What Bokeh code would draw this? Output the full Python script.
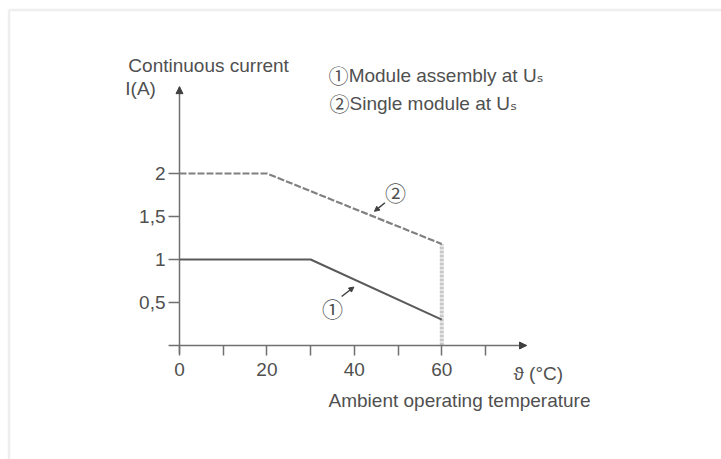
from bokeh.plotting import figure
from bokeh.models import Range1d, FixedTicker, Label, Arrow, NormalHead
from bokeh.embed import file_html
from bokeh.resources import INLINE

# ---- data ----
temp_assembly = [0, 30, 60]
current_assembly = [1.0, 1.0, 0.3]
temp_single = [0, 20, 60]
current_single = [2.0, 2.0, 1.18]
limit_temp = [60, 60]
limit_current = [0.0, 1.18]
x_ticks = [0, 10, 20, 30, 40, 50, 60, 70]
x_tick_labels = ["0", "", "20", "", "40", "", "60", ""]
y_ticks = [0.5, 1.0, 1.5, 2.0]
y_tick_labels = ["0,5", "1", "1,5", "2"]

# drawn axis extents (data units)
AX_X0, AX_X1 = -2.5, 79.4
AX_Y0, AX_Y1 = -0.093, 3.01
# whole-canvas data window (canvas 721 x 459 px)
X_START, X_END = -40.95, 124.0
Y_START, Y_END = -1.3256, 4.012
# faint page frame (top / left edges)
FRAME_X, FRAME_Y = -39.0, 3.901

FONT = "'Liberation Sans', 'DejaVu Sans', sans-serif"
SYM_FONT = "'Noto Sans CJK JP', 'DejaVu Sans', sans-serif"
TXT = "#505050"
AX = "#707070"
FS = "19px"

p = figure(frame_width=721, frame_height=459,
           min_border_left=0, min_border_right=0,
           min_border_top=0, min_border_bottom=0,
           x_range=Range1d(X_START, X_END), y_range=Range1d(Y_START, Y_END),
           output_backend="svg", toolbar_location=None)
p.outline_line_color = None
p.xgrid.visible = False
p.ygrid.visible = False

# faint frame of the original picture
p.segment(x0=[FRAME_X, FRAME_X], y0=[FRAME_Y, FRAME_Y], x1=[X_END, FRAME_X], y1=[FRAME_Y, Y_START],
          line_color="#eeeeee", line_width=2.5)

# axes (ticks + labels from bokeh, anchored at 0)
for ax in (p.xaxis, p.yaxis):
    ax.fixed_location = 0
    ax.axis_line_color = None
    ax.major_tick_line_color = AX
    ax.major_tick_line_width = 1.5
    ax.major_tick_in = 0
    ax.minor_tick_line_color = None
    ax.major_label_text_font = FONT
    ax.major_label_text_font_size = FS
    ax.major_label_text_color = TXT

p.xaxis.ticker = FixedTicker(ticks=x_ticks)
p.xaxis.major_label_overrides = {t: l for t, l in zip(x_ticks, x_tick_labels)}
p.xaxis.major_tick_out = 10
p.xaxis.major_label_standoff = 7

p.yaxis.ticker = FixedTicker(ticks=y_ticks)
p.yaxis.major_label_overrides = {t: l for t, l in zip(y_ticks, y_tick_labels)}
p.yaxis.major_tick_out = 11
p.yaxis.major_label_standoff = 3

# vertical limit line at 60 degC (light, thick)
p.line(limit_temp, limit_current, line_color="#c8c8c8", line_width=4, line_dash="3 1")

# axis lines with arrow heads
p.segment(x0=[AX_X0, 0], y0=[0, AX_Y0], x1=[AX_X1, 0], y1=[0, AX_Y1],
          line_color=AX, line_width=1.5)
p.add_layout(Arrow(end=NormalHead(size=7, fill_color="#404040", line_color="#404040"),
                   x_start=0, y_start=AX_Y1 - 0.2, x_end=0, y_end=AX_Y1, line_alpha=0))
p.add_layout(Arrow(end=NormalHead(size=7, fill_color="#404040", line_color="#404040"),
                   x_start=AX_X1 - 4, y_start=0, x_end=AX_X1, y_end=0, line_alpha=0))

# curves
p.line(temp_single, current_single, line_color="#808080", line_width=2.2, line_dash="7 2")
p.line(temp_assembly, current_assembly, line_color="#5a5a5a", line_width=2)

def lab(x, y, text, size=FS, align="left", font=FONT):
    p.add_layout(Label(x=x, y=y, text=text, text_align=align, text_baseline="middle",
                       text_font=font, text_font_size=size, text_color=TXT))

# curve markers (circled numbers) with leader arrows
lab(49.4, 1.78, "②", size="21px", align="center", font=SYM_FONT)
p.add_layout(Arrow(end=NormalHead(size=5, fill_color="#404040", line_color="#404040"),
                   x_start=47.0, y_start=1.66, x_end=44.6, y_end=1.56,
                   line_color="#404040", line_width=1.5))
lab(35.0, 0.44, "①", size="21px", align="center", font=SYM_FONT)
p.add_layout(Arrow(end=NormalHead(size=5, fill_color="#404040", line_color="#404040"),
                   x_start=37.1, y_start=0.57, x_end=39.9, y_end=0.68,
                   line_color="#404040", line_width=1.5))

# axis titles
lab(-11.7, 3.256, "Continuous current")
lab(-12.4, 2.99, "I(A)")
lab(76.4, -0.326, "ϑ (°C)")
lab(34.1, -0.64, "Ambient operating temperature")

# legend
lab(36.4, 3.14, "①", size="20px", align="center", font=SYM_FONT)
lab(38.7, 3.14, "Module assembly at Uₛ")
lab(36.6, 2.81, "②", size="20px", align="center", font=SYM_FONT)
lab(38.9, 2.81, "Single module at Uₛ")

open("out.html", "w").write(file_html(p, INLINE))
